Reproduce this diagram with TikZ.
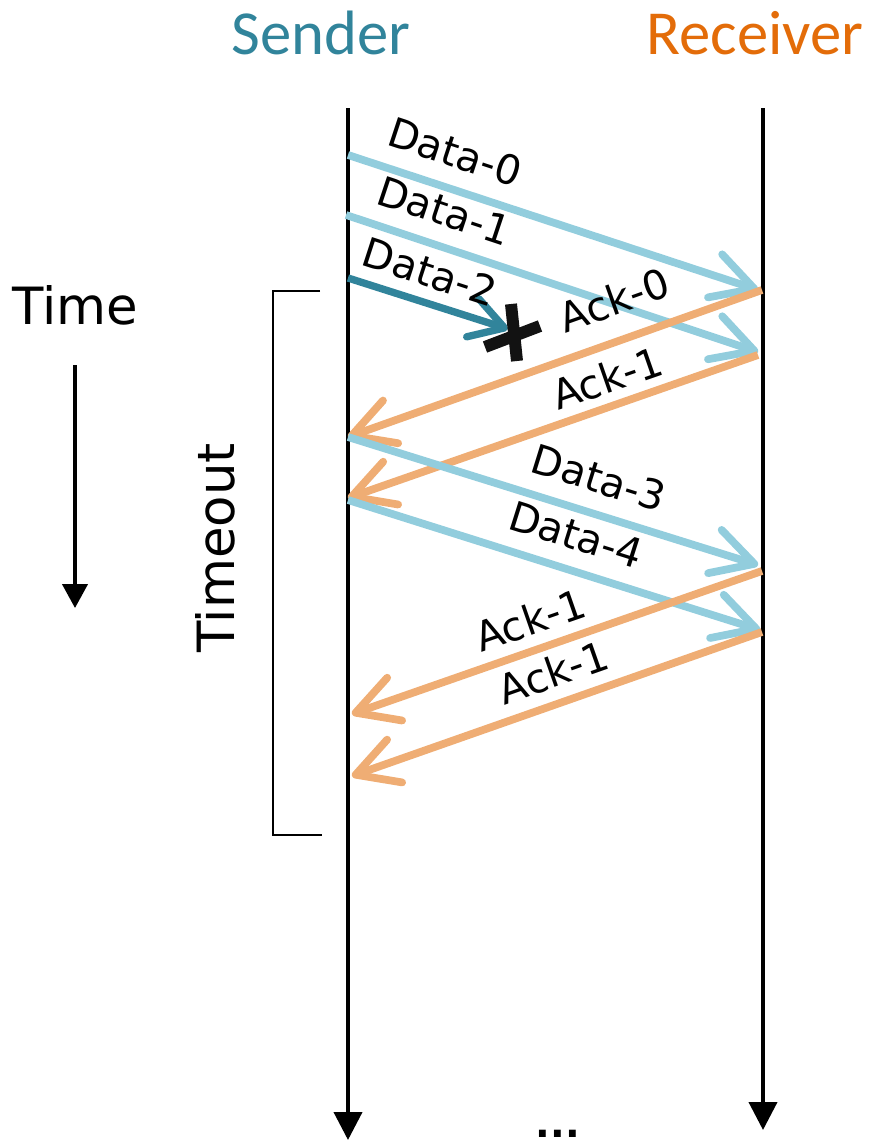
\documentclass[tikz,border=0pt]{standalone}
\usepackage{fontspec}
\setmainfont{DejaVu Sans}
\newfontfamily\headfont{Carlito}
\usetikzlibrary{arrows.meta}

\definecolor{datablue}{RGB}{146,205,221}
\definecolor{ackorange}{RGB}{239,173,116}
\definecolor{lostteal}{RGB}{49,132,155}
\definecolor{sendcol}{RGB}{49,132,155}
\definecolor{recvcol}{RGB}{227,108,9}

\tikzset{
  msg/.style={line width=5.8pt, -{Straight Barb[length=31pt,width=34pt,round]}},
  data/.style={msg, draw=datablue},
  ack/.style={msg, draw=ackorange},
  lbl/.style={font=\fontsize{30.5}{32}\selectfont, inner sep=0pt},
  big/.style={font=\fontsize{38.5}{40}\selectfont, inner sep=0pt},
  head/.style={font=\headfont\fontsize{47}{50}\selectfont, inner sep=0pt},
  lifeline/.style={line width=3pt, -{Triangle[length=21pt,width=21pt]}},
}

\begin{document}
\begin{tikzpicture}[x=0.75pt,y=-0.75pt]
\useasboundingbox (0,0) rectangle (871,1142);

\node[head, text=sendcol] (sender) at (321,33) {Sender};
\node[head, text=recvcol] (receiver) at (755,33) {Receiver};

% lifelines
\coordinate (s-top) at (348,108);
\coordinate (s-end) at (348,1140);
\coordinate (r-top) at (763,108);
\coordinate (r-end) at (763,1130);
\draw[lifeline] (s-top) -- (s-end);
\draw[lifeline] (r-top) -- (r-end);
\node[font=\fontsize{29}{30}\selectfont\bfseries, inner sep=0pt] (dots) at (558,1134) {...};

% time axis
\node[big] (time) at (75,305) {Time};
\coordinate (t-top) at (75,365);
\coordinate (t-end) at (75,608);
\draw[line width=2.4pt, -{Triangle[length=18pt,width=19pt]}] (t-top) -- (t-end);

% timeout bracket
\draw[line width=1.1pt] (320,291) -- (273,291) -- (273,835) -- (322,835);
\node[big, rotate=90] (timeout) at (215,548) {Timeout};

% message end points
\coordinate (s0) at (348,155);  \coordinate (r0) at (758,290);
\coordinate (s1) at (346,215);  \coordinate (r1) at (758,352);
\coordinate (s2) at (348,278);  \coordinate (lost) at (508,329);
\coordinate (a0) at (762,290);  \coordinate (b0) at (348,437);
\coordinate (a1) at (758,355);  \coordinate (b1) at (348,498);
\coordinate (s3) at (348,437);  \coordinate (r3) at (758,565);
\coordinate (s4) at (348,500);  \coordinate (r4) at (760,630);
\coordinate (a2) at (762,571);  \coordinate (b2) at (352,714);
\coordinate (a3) at (762,632);  \coordinate (b3) at (352,776);

\draw[data] (s0) -- (r0);
\draw[data] (s1) -- (r1);
\draw[line width=5.5pt, draw=lostteal, -{Straight Barb[length=25pt,width=30pt,round]}] (s2) -- (lost);
\draw[line width=9pt, draw=black!93] (485,347) -- (540,326) (511,304) -- (517,361);
\draw[ack] (a0) -- (b0);
\draw[ack] (a1) -- (b1);
\draw[data] (s3) -- (r3);
\draw[data] (s4) -- (r4);
\draw[ack] (a2) -- (b2);
\draw[ack] (a3) -- (b3);

\node[lbl, rotate=-18.2] (l-d0) at (455,152) {Data-0};
\node[lbl, rotate=-18.4] (l-d1) at (444,211) {Data-1};
\node[lbl, rotate=-18.0] (l-d2) at (430,272) {Data-2};
\node[lbl, rotate=19.6] (l-a0) at (614,300) {Ack-0};
\node[lbl, rotate=19.2] (l-a1) at (607,378) {Ack-1};
\node[lbl, rotate=-17.3] (l-d3) at (599,478) {Data-3};
\node[lbl, rotate=-17.5] (l-d4) at (576,535) {Data-4};
\node[lbl, rotate=19.2] (l-a2) at (530,620) {Ack-1};
\node[lbl, rotate=19.4] (l-a3) at (553,672) {Ack-1};

\end{tikzpicture}
\end{document}
